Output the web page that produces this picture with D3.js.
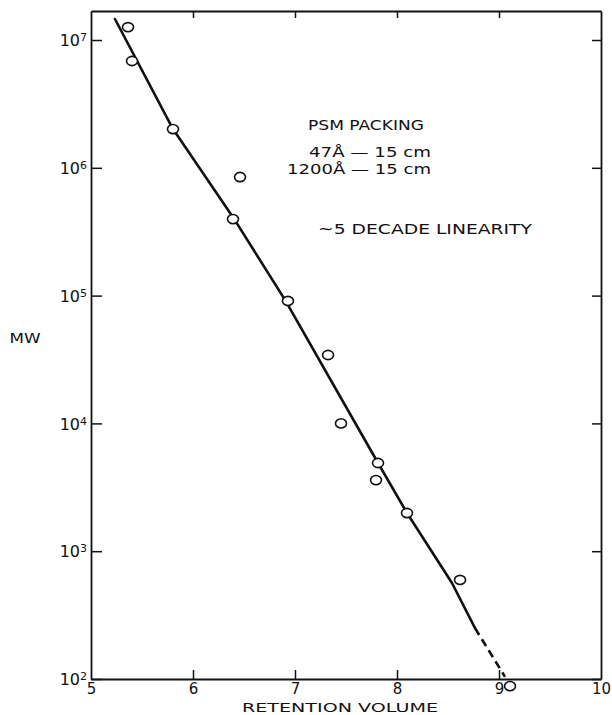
<!DOCTYPE html>
<html>
<head>
<meta charset="utf-8">
<script src="https://cdn.jsdelivr.net/npm/d3@7"></script>
<style>
  html, body { margin: 0; padding: 0; background: #fff; }
  svg { display: block; }
  text { font-family: "DejaVu Sans", sans-serif; fill: #111; }
</style>
</head>
<body>
<svg id="chart" width="612" height="715"></svg>
<script>
// ---- data ----
const retention = [5.363, 5.402, 5.804, 6.461, 6.392, 6.931, 7.324, 7.451, 7.814, 7.794, 8.098, 8.618, 9.108];
const mw        = [1.26e7, 6.85e6, 2.01e6, 8.47e5, 3.97e5, 9.08e4, 3.43e4, 1.0e4, 4.9e3, 3.6e3, 1.99e3, 596, 88];

// calibration line (solid) and its dashed extrapolation
const fitX  = [5.235, 5.804, 6.392, 6.902, 7.814, 8.098, 8.539, 8.765];
const fitMW = [1.46e7, 2.01e6, 4.11e5, 9.25e4, 4.9e3, 1.99e3, 564, 250];
const extX  = [8.765, 9.059];
const extMW = [250, 104];

const xTicks = [5, 6, 7, 8, 9, 10];
const yTickExponents = [2, 3, 4, 5, 6, 7];

// ---- layout ----
const svg = d3.select("#chart");
const pLeft = 91, pRight = 601, pTop = 11, pBottom = 679;

const x = d3.scaleLinear().domain([5, 10]).range([pLeft, pRight]);
const y = d3.scaleLog().domain([100, Math.pow(10, 7.227)]).range([pBottom, pTop]);
const yTicks = yTickExponents.map(e => Math.pow(10, e));

// bottom axis
const gx = svg.append("g").attr("transform", `translate(0,${pBottom})`)
  .call(d3.axisBottom(x).tickValues(xTicks).tickSizeInner(-9).tickSizeOuter(0).tickPadding(4).tickFormat(d3.format("d")));
// top axis
const gxt = svg.append("g").attr("transform", `translate(0,${pTop})`)
  .call(d3.axisTop(x).tickValues(xTicks).tickSizeInner(-7).tickSizeOuter(0).tickFormat(""));
// left axis
const gy = svg.append("g").attr("transform", `translate(${pLeft},0)`)
  .call(d3.axisLeft(y).tickValues(yTicks).tickSizeInner(-11).tickSizeOuter(0).tickPadding(5).tickFormat(""));
// right axis
const gyr = svg.append("g").attr("transform", `translate(${pRight},0)`)
  .call(d3.axisRight(y).tickValues(yTicks).tickSizeInner(-9).tickSizeOuter(0).tickFormat(""));

[gx, gxt, gy, gyr].forEach(g => {
  g.select(".domain").attr("stroke", "#111").attr("stroke-width", 1.8);
  g.selectAll(".tick line").attr("stroke", "#111").attr("stroke-width", 1.5);
});
gx.selectAll(".tick text").attr("font-size", 15).attr("fill", "#111")
  .attr("font-family", "DejaVu Sans, sans-serif");
gx.selectAll(".tick line").filter(d => d === 5 || d === 10).remove();
gxt.selectAll(".tick line").filter(d => d === 5 || d === 10).remove();

// left tick labels 10^n
gy.selectAll(".tick").each(function(d) {
  const t = d3.select(this).select("text")
    .attr("font-size", 16).attr("fill", "#111")
    .attr("font-family", "DejaVu Sans, sans-serif")
    .attr("x", -4).attr("dy", "0.35em").attr("text-anchor", "end");
  t.text(null);
  t.append("tspan").text("10");
  t.append("tspan").attr("dy", "-0.45em").attr("font-size", 11)
    .text(Math.round(Math.log10(d)));
});

// axis titles
svg.append("text").attr("x", 340).attr("y", 712).attr("text-anchor", "middle")
  .attr("font-size", 13).attr("textLength", 196).attr("lengthAdjust", "spacingAndGlyphs")
  .text("RETENTION VOLUME");
svg.append("text").attr("x", 25).attr("y", 343).attr("text-anchor", "middle")
  .attr("font-size", 14).attr("textLength", 31).attr("lengthAdjust", "spacingAndGlyphs")
  .text("MW");

// annotations
svg.append("text").attr("x", 308).attr("y", 130).attr("font-size", 14)
  .attr("textLength", 116).attr("lengthAdjust", "spacingAndGlyphs").text("PSM PACKING");
svg.append("text").attr("x", 431).attr("y", 157).attr("text-anchor", "end").attr("font-size", 14)
  .attr("textLength", 122).attr("lengthAdjust", "spacingAndGlyphs").text("47Å — 15 cm");
svg.append("text").attr("x", 431).attr("y", 174).attr("text-anchor", "end").attr("font-size", 14)
  .attr("textLength", 144).attr("lengthAdjust", "spacingAndGlyphs").text("1200Å — 15 cm");
svg.append("text").attr("x", 318).attr("y", 234).attr("font-size", 14)
  .attr("textLength", 214).attr("lengthAdjust", "spacingAndGlyphs").text("~5 DECADE LINEARITY");

// calibration line
const line = d3.line().x(d => x(d[0])).y(d => y(d[1]));
svg.append("path").datum(d3.zip(fitX, fitMW)).attr("d", line)
  .attr("fill", "none").attr("stroke", "#111").attr("stroke-width", 2.6)
  .attr("stroke-linejoin", "round").attr("stroke-linecap", "round");
svg.append("path").datum(d3.zip(extX, extMW)).attr("d", line)
  .attr("fill", "none").attr("stroke", "#111").attr("stroke-width", 2.6)
  .attr("stroke-dasharray", "8,5");

// data points
svg.append("g").selectAll("ellipse").data(d3.zip(retention, mw)).join("ellipse")
  .attr("cx", d => x(d[0])).attr("cy", d => y(d[1]))
  .attr("rx", 5.5).attr("ry", 4.6)
  .attr("fill", "#fff").attr("stroke", "#111").attr("stroke-width", 1.6);
</script>
</body>
</html>
